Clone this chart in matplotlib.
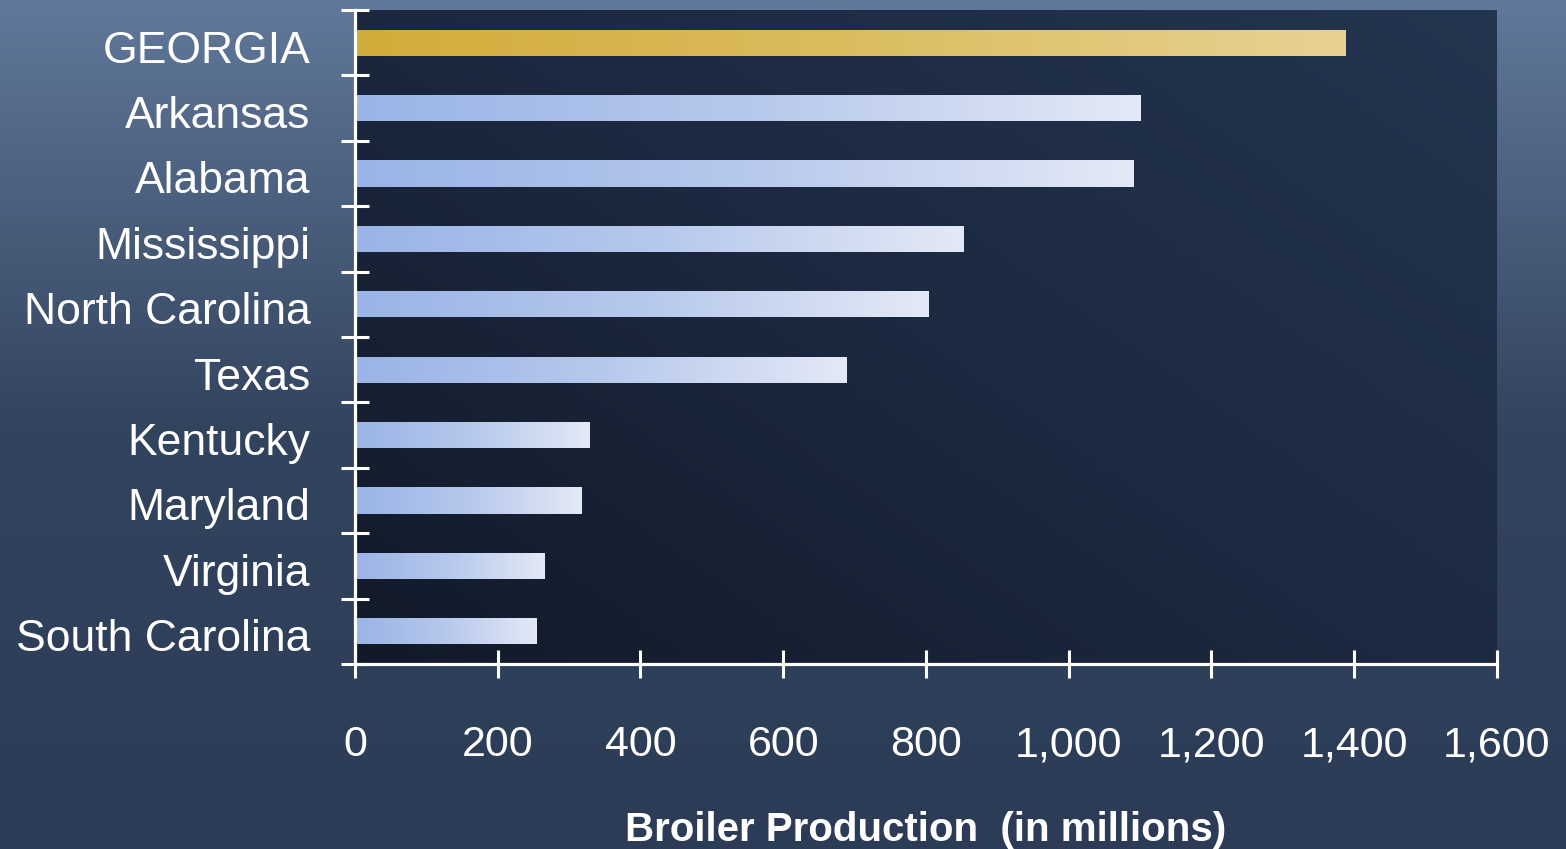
import numpy as np
import matplotlib.pyplot as plt
from matplotlib.colors import LinearSegmentedColormap
from matplotlib.ticker import FuncFormatter, FixedLocator
from matplotlib.transforms import ScaledTranslation

# Broiler production by state (millions)
states = ["GEORGIA", "Arkansas", "Alabama", "Mississippi", "North Carolina",
          "Texas", "Kentucky", "Maryland", "Virginia", "South Carolina"]
production = [1388, 1101, 1091, 853, 804, 688, 328, 318, 265, 255]
x_ticks = [0, 200, 400, 600, 800, 1000, 1200, 1400, 1600]

plt.rcParams['font.family'] = ['Liberation Sans', 'DejaVu Sans']

fig = plt.figure(figsize=(15.66, 8.49), dpi=100)

# figure background gradient
bg = fig.add_axes([0, 0, 1, 1], zorder=-10)
bg_cmap = LinearSegmentedColormap.from_list("bg", ["#2c3c57", "#33445f", "#61789a"])
grad = np.linspace(0, 1, 256).reshape(-1, 1)
bg.imshow(grad, cmap=bg_cmap, aspect='auto', extent=[0, 1, 0, 1], origin='lower')
bg.axis('off')

ax = fig.add_axes([0.2267, 0.218, 0.7292, 0.7702])
ax.patch.set_alpha(0)

# plot area gradient: darker bottom-left, lighter top-right
xx, yy = np.meshgrid(np.linspace(0, 1, 200), np.linspace(0, 1, 200))
area = 0.55 * xx + 0.45 * yy
area_cmap = LinearSegmentedColormap.from_list("area", ["#121a29", "#1c2940", "#24354f"])
ax.imshow(area, cmap=area_cmap, aspect='auto', extent=[0, 1, 0, 1], origin='lower',
          transform=ax.transAxes, zorder=0)

ypos = np.arange(len(states))
bars = ax.barh(ypos, production, height=0.4, color='none', zorder=2)

blue = LinearSegmentedColormap.from_list("blue", ["#9ab4e6", "#b6c8ec", "#e3e9f6"])
gold = LinearSegmentedColormap.from_list("gold", ["#d2ac3a", "#dbbc5e", "#e7d293"])
hgrad = np.linspace(0, 1, 256).reshape(1, -1)
for i, b in enumerate(bars):
    cm = gold if i == 0 else blue
    x0, y0 = b.get_x(), b.get_y()
    im = ax.imshow(hgrad, cmap=cm, aspect='auto',
                   extent=[x0, x0 + b.get_width(), y0 + b.get_height(), y0],
                   zorder=2)
    im.set_clip_path(b)

ax.set_xlim(0, 1600)
ax.set_ylim(len(states) - 0.5, -0.5)

for s in ['top', 'right']:
    ax.spines[s].set_visible(False)
for s in ['left', 'bottom']:
    ax.spines[s].set_color('white')
    ax.spines[s].set_linewidth(2.3)
    ax.spines[s].set_zorder(5)

ax.xaxis.set_major_locator(FixedLocator(x_ticks))
ax.xaxis.set_major_formatter(FuncFormatter(lambda v, p: f"{v:,.0f}"))
ax.tick_params(axis='x', direction='inout', length=20, width=2.2, color='white',
               labelcolor='white', labelsize=31, pad=34)

ax.yaxis.set_major_locator(FixedLocator(np.arange(-0.5, len(states), 1.0)))
ax.yaxis.set_major_formatter(FuncFormatter(lambda v, p: ""))
ax.yaxis.set_minor_locator(FixedLocator(ypos))
ax.set_yticklabels(states, minor=True)
ax.tick_params(axis='y', which='major', direction='inout', length=20, width=2.2,
               color='white')
ax.tick_params(axis='y', which='minor', length=0, labelcolor='white',
               labelsize=32, pad=32)
shift = ScaledTranslation(0, -0.04, fig.dpi_scale_trans)
for lbl in ax.get_yticklabels(minor=True):
    lbl.set_transform(lbl.get_transform() + shift)

ax.set_xlabel("Broiler Production  (in millions)", color='white', fontsize=29,
              fontweight='bold', labelpad=33)

fig.savefig("out.png", dpi=100)
